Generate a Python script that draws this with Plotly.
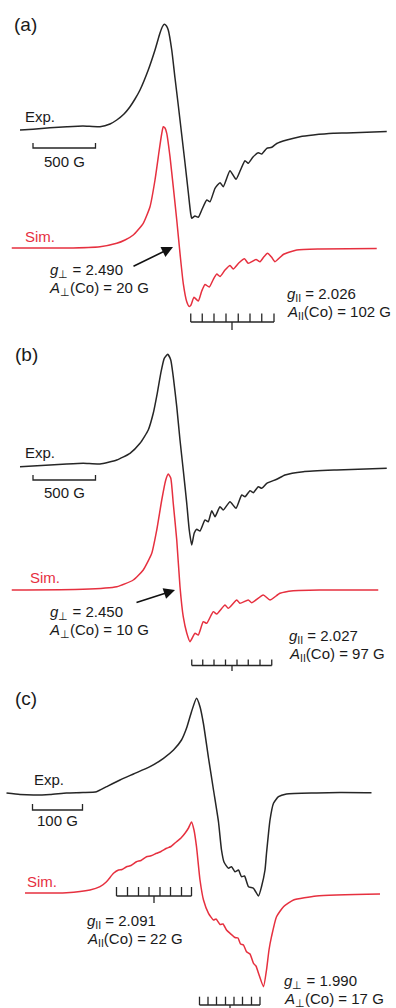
import plotly.graph_objects as go

# ---------------- data (field in G, signal in a.u.) ----------------
# (a)
exp_a_field = [1660, 1764, 1900, 2036, 2164, 2300, 2380, 2434, 2492, 2540, 2580, 2620, 2686, 2740, 2780,
               2800, 2814, 2832, 2846, 2874, 2900, 2926, 2954, 2980, 3006, 3026, 3034, 3060, 3086, 3114,
               3154, 3180, 3220, 3260, 3286, 3340, 3388, 3424, 3460, 3486, 3524, 3566, 3594, 3634, 3674,
               3714, 3794, 3900, 4006, 4166, 4274, 4594]
exp_a_signal = [0, 0.7, 2.3, 3.3, 4, 3.3, 6, 10, 16, 23.3, 31, 40, 60, 80, 97,
                103.5, 105.7, 104, 100, 80, 52, 25, -5, -33, -62, -84, -88.3, -86, -87.3, -80,
                -70, -71.7, -58.3, -52.7, -56.7, -40.7, -49.3, -40, -30.7, -33.3, -27, -22.7, -24, -18.3, -17.3,
                -13.5, -10, -6.7, -5, -3.3, -3, -1.5]
sim_a_field = [1594, 2034, 2300, 2434, 2500, 2566, 2646, 2700, 2740, 2774, 2792, 2806, 2820, 2834, 2860,
               2886, 2914, 2940, 2966, 2994, 3014, 3028, 3052, 3086, 3114, 3140, 3174, 3204, 3234, 3260,
               3300, 3340, 3366, 3410, 3456, 3486, 3548, 3580, 3610, 3640, 3672, 3700, 3766, 3874, 4060, 4514]
sim_a_signal = [0, 0, 1.3, 4.7, 8, 13, 24.7, 41.3, 68, 98, 113, 121.3, 120, 114.7, 91.3,
                61.3, 28, -5.3, -35.3, -53.7, -58.5, -57, -49.3, -53, -43, -36.5, -39, -32, -26, -28.5,
                -22, -17.5, -21, -15, -10.8, -15.3, -11.5, -13.7, -9, -5.3, -9, -13.7, -6.5, -2, -1, -0.5]

# (b)
exp_b_field = [1660, 1900, 2034, 2166, 2300, 2434, 2540, 2620, 2686, 2726, 2758, 2786, 2814, 2842, 2866,
               2886, 2914, 2940, 2966, 2994, 3014, 3034, 3054, 3074, 3100, 3140, 3166, 3194, 3220, 3260,
               3286, 3340, 3388, 3434, 3460, 3500, 3526, 3566, 3594, 3634, 3714, 3780, 3926, 4194, 4594]
exp_b_signal = [0.3, 2, 3, 3.7, 3, 7, 13.7, 23.7, 37, 53.7, 73.7, 93.7, 108.7, 112.7, 107,
                90.3, 60.3, 27, -3, -36.3, -63, -78, -66, -62.3, -64, -53, -54.7, -43.7, -49.7, -39.7,
                -43, -34.7, -41.3, -28, -29.7, -23.7, -25.7, -19.7, -21.3, -16.3, -12.3, -8, -4.7, -3, -1.3]
sim_b_field = [1594, 2164, 2434, 2566, 2646, 2714, 2754, 2794, 2826, 2846, 2866, 2886, 2914, 2940, 2966,
               2994, 3020, 3060, 3086, 3126, 3154, 3206, 3234, 3300, 3326, 3394, 3420, 3486, 3514, 3606,
               3660, 3740, 3846, 4060, 4526]
sim_b_signal = [0, 0.7, 3.3, 10, 20, 36.7, 60, 90, 110, 116, 112, 86.7, 50, 3.3, -26.7,
                -43, -51.7, -43.3, -45, -31.7, -33.3, -21.7, -24, -15, -18.3, -10, -13.3, -10, -12.7, -5,
                -10, -3.3, -0.7, 0, 0]

# (c)
exp_c_field = [2843, 2870, 2897, 2930, 2963, 2996, 3023, 3043, 3070, 3097, 3130, 3157, 3177, 3193, 3203,
               3213, 3223, 3230, 3237, 3247, 3257, 3267, 3273, 3278, 3287, 3293, 3300, 3307, 3313, 3319,
               3327, 3337, 3347, 3353, 3360, 3363, 3367, 3370, 3377, 3387, 3403, 3463, 3510, 3573]
exp_c_signal = [0, -1.5, -2, -1.5, 0, 0.5, 1.3, 6.3, 13, 19, 26.3, 34.7, 43, 53, 64.7,
                81.3, 94.7, 86.3, 69, 35, 3, -29, -57, -69, -75.3, -73.7, -78.7, -77, -83.7, -83,
                -93.7, -95.3, -103, -93.7, -77, -60.3, -40.3, -27, -10.3, -3.7, -1, 0, 0.5, 0.3]
sim_c_field = [2880, 2963, 3010, 3030, 3043, 3057, 3067, 3074, 3083, 3092, 3103, 3112, 3123, 3132, 3143,
               3152, 3163, 3172, 3183, 3192, 3200, 3207, 3213, 3218, 3223, 3230, 3237, 3247, 3257, 3262,
               3270, 3276, 3283, 3290, 3300, 3306, 3311, 3317, 3323, 3330, 3337, 3342, 3347, 3357, 3363,
               3368, 3373, 3383, 3397, 3417, 3463, 3590]
sim_c_signal = [0, 0.3, 3, 6.3, 11.3, 19.7, 23, 23.5, 26.3, 27.5, 31.3, 32.5, 36.3, 37.2, 39.7,
                41.5, 44.7, 46.5, 51.3, 55, 59.7, 65, 71, 63, 46.3, 13, -7, -20.3, -27, -26,
                -31.5, -31, -37, -40.3, -44.5, -45, -51, -52, -58.7, -61, -70.3, -73, -80.3, -93.7, -77,
                -57, -43.7, -23.7, -13.7, -7, -3, -1]

# stick diagrams: hyperfine line positions (G) and centre
sticks_a = [3026, 3118, 3212, 3308, 3406, 3500, 3594, 3692]
sticks_a_center = 3356
sticks_b = [3034, 3122, 3212, 3304, 3396, 3486, 3580, 3674]
sticks_b_center = 3356
sticks_c_par = [3063, 3085, 3107, 3128, 3150, 3171, 3193, 3213]
sticks_c_par_center = 3138
sticks_c_perp = [3229, 3246, 3263, 3281, 3298, 3315, 3333, 3350]
sticks_c_perp_center = 3290

scale_ab_G = 500
scale_c_G = 100

panel_labels = ["(a)", "(b)", "(c)"]
params_a = ["<i>g</i><sub>⊥</sub> = 2.490", "<i>A</i><sub>⊥</sub>(Co) = 20 G",
            "<i>g</i><sub>II</sub> = 2.026", "<i>A</i><sub>II</sub>(Co) = 102 G"]
params_b = ["<i>g</i><sub>⊥</sub> = 2.450", "<i>A</i><sub>⊥</sub>(Co) = 10 G",
            "<i>g</i><sub>II</sub> = 2.027", "<i>A</i><sub>II</sub>(Co) = 97 G"]
params_c = ["<i>g</i><sub>II</sub> = 2.091", "<i>A</i><sub>II</sub>(Co) = 22 G",
            "<i>g</i><sub>⊥</sub> = 1.990", "<i>A</i><sub>⊥</sub>(Co) = 17 G"]

# ---------------- layout helpers ----------------
W, H = 396, 1008
BLACK = "#262626"
RED = "#e6303f"
TXT = "#1a1a1a"
FONT = "Liberation Sans, Arial, sans-serif"
ROWS = {"a": (0, 335), "b": (335, 678), "c": (678, 1008)}
XR = {"a": [1500, 4668], "b": [1500, 4668], "c": [2830, 3622]}
AX = {"a": ("x", "y"), "b": ("x2", "y2"), "c": ("x3", "y3")}
OFF = {"a": (205, 87), "b": (211, 88), "c": (215, 115)}


def yv(p, row):
    return ROWS[p][1] - row


fig = go.Figure()


def line(p, xs, ys, color, width=1.5, smooth=True):
    xa, ya = AX[p]
    ln = dict(color=color, width=width)
    if smooth:
        ln.update(shape="spline", smoothing=0.5)
    fig.add_trace(go.Scatter(x=xs, y=ys, xaxis=xa, yaxis=ya, mode="lines", line=ln,
                             hoverinfo="skip", showlegend=False))


spectra = {
    "a": (exp_a_field, exp_a_signal, sim_a_field, sim_a_signal),
    "b": (exp_b_field, exp_b_signal, sim_b_field, sim_b_signal),
    "c": (exp_c_field, exp_c_signal, sim_c_field, sim_c_signal),
}
for p, (ef, es, sf, ss) in spectra.items():
    line(p, ef, [v + OFF[p][0] for v in es], BLACK)
    line(p, sf, [v + OFF[p][1] for v in ss], RED)


def sticks(p, pos, center, bar, up, down):
    xs = [pos[0], pos[-1], None]
    ys = [bar, bar, None]
    for q in pos:
        xs += [q, q, None]
        ys += [bar, bar + up, None]
    xs += [center, center]
    ys += [bar, bar - down]
    line(p, xs, ys, BLACK, 1.3, smooth=False)


sticks("a", sticks_a, sticks_a_center, yv("a", 322), 8.5, 8)
sticks("b", sticks_b, sticks_b_center, yv("b", 665.5), 6, 5.5)
sticks("c", sticks_c_par, sticks_c_par_center, yv("c", 896), 9, 7)
sticks("c", sticks_c_perp, sticks_c_perp_center, yv("c", 1005), 8.3, 7)


def scalebar(p, x0, length, bar, up=5):
    xs = [x0, x0, x0 + length, x0 + length]
    ys = [bar + up, bar, bar, bar + up]
    line(p, xs, ys, BLACK, 1.3, smooth=False)


scalebar("a", 1764, scale_ab_G, yv("a", 148))
scalebar("b", 1764, scale_ab_G, yv("b", 480))
scalebar("c", 2895, scale_c_G, yv("c", 810), 6)

annotations = []


def text(p, s, x, row, color=TXT, size=15, xanchor="left"):
    xa, ya = AX[p]
    annotations.append(dict(text=s, x=x, y=yv(p, row), xref=xa, yref=ya, xanchor=xanchor,
                            yanchor="middle", showarrow=False,
                            font=dict(family=FONT, size=size, color=color)))


def arrow(p, x_tail, row_tail, x_head, row_head):
    xa, ya = AX[p]
    annotations.append(dict(text="", x=x_head, y=yv(p, row_head), ax=x_tail, ay=yv(p, row_tail),
                            xref=xa, yref=ya, axref=xa, ayref=ya, showarrow=True,
                            arrowhead=2, arrowsize=1.4, arrowwidth=1.6, arrowcolor="#111111"))


# panel (a)
text("a", panel_labels[0], 1596, 24, size=19)
text("a", "Exp.", 1684, 116)
text("a", "500 G", 1764 + scale_ab_G / 2, 161, xanchor="center")
text("a", "Sim.", 1684, 236, color=RED)
text("a", params_a[0], 1884, 270)
text("a", params_a[1], 1876, 288)
text("a", params_a[2], 3780, 294)
text("a", params_a[3], 3780, 312)
arrow("a", 2556, 267, 2884, 247)

# panel (b)
text("b", panel_labels[1], 1604, 355, size=19)
text("b", "Exp.", 1684, 453)
text("b", "500 G", 1764 + scale_ab_G / 2, 493, xanchor="center")
text("b", "Sim.", 1724, 577, color=RED)
text("b", params_b[0], 1884, 612)
text("b", params_b[1], 1876, 630)
text("b", params_b[2], 3796, 636)
text("b", params_b[3], 3796, 654)
arrow("b", 2580, 603, 2900, 590)

# panel (c)
text("c", panel_labels[2], 2856, 698, size=19)
text("c", "Exp.", 2894, 779)
text("c", "100 G", 2895 + scale_c_G / 2, 820, xanchor="center")
text("c", "Sim.", 2880, 881, color=RED)
text("c", params_c[0], 3000, 921)
text("c", params_c[1], 3000, 939)
text("c", params_c[2], 3394, 981)
text("c", params_c[3], 3394, 999)


def dom(p):
    top, bot = ROWS[p]
    return [1 - bot / H, 1 - top / H]


axis_common = dict(visible=False, showgrid=False, zeroline=False, fixedrange=True)
fig.update_layout(
    width=W, height=H,
    margin=dict(l=0, r=0, t=0, b=0),
    paper_bgcolor="white", plot_bgcolor="white",
    showlegend=False,
    annotations=annotations,
    xaxis=dict(range=XR["a"], domain=[0, 1], anchor="y", **axis_common),
    yaxis=dict(range=[0, ROWS["a"][1] - ROWS["a"][0]], domain=dom("a"), anchor="x", **axis_common),
    xaxis2=dict(range=XR["b"], domain=[0, 1], anchor="y2", **axis_common),
    yaxis2=dict(range=[0, ROWS["b"][1] - ROWS["b"][0]], domain=dom("b"), anchor="x2", **axis_common),
    xaxis3=dict(range=XR["c"], domain=[0, 1], anchor="y3", **axis_common),
    yaxis3=dict(range=[0, ROWS["c"][1] - ROWS["c"][0]], domain=dom("c"), anchor="x3", **axis_common),
)

fig.write_html("out.html", config={"displayModeBar": False})
